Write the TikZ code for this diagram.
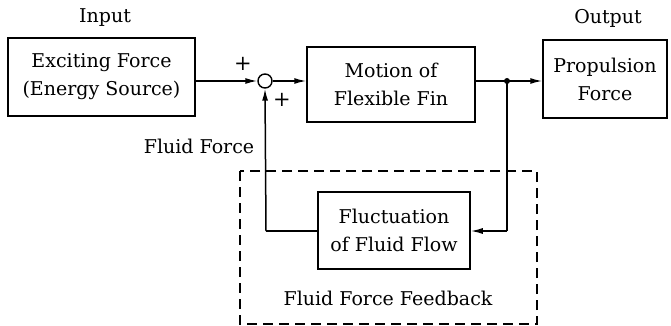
\documentclass[tikz,border=0pt]{standalone}
\usepackage{fontspec}
\setmainfont{DejaVu Serif}
\usetikzlibrary{arrows.meta}
\begin{document}
\begin{tikzpicture}[x=1pt,y=-1pt,
  blk/.style={draw,line width=1.5pt,inner sep=0pt,font=\fontsize{19}{28}\selectfont,align=center},
  lbl/.style={font=\fontsize{19}{22}\selectfont,inner sep=0pt},
  sig/.style={line width=1.5pt,-{Latex[length=12pt,width=6pt]}},
  ln/.style={line width=1.5pt}]
\useasboundingbox (0,0) rectangle (671,326);
\node[blk,minimum width=187pt,minimum height=78pt] (exc) at (101.5,77) {Exciting Force\\(Energy Source)};
\node[draw,circle,line width=1.4pt,minimum size=14pt,inner sep=0pt] (sum) at (265,81) {};
\node[blk,minimum width=168pt,minimum height=75pt] (fin) at (391,84.5) {Motion of\\Flexible Fin};
\node[blk,minimum width=124pt,minimum height=78pt] (prop) at (605,79) {Propulsion\\Force};
\node[blk,minimum width=152pt,minimum height=77pt] (fluc) at (394,230.5) {Fluctuation\\of Fluid Flow};
\node[lbl] (in) at (105,18) {Input};
\node[lbl] (out) at (608,18) {Output};
\node[lbl,font=\fontsize{21}{22}\selectfont] (p1) at (243,64) {+};
\node[lbl,font=\fontsize{21}{22}\selectfont] (p2) at (282,100) {+};
\node[lbl] (ff) at (199,146) {Fluid Force};
\node[lbl] (ffb) at (388,298) {Fluid Force Feedback};
\coordinate (dot) at (507,81);
\coordinate (br) at (507,231);
\coordinate (bl) at (266,231);
\draw[sig] (exc.east |- sum) -- (sum.west);
\draw[sig] (sum.east) -- (fin.west |- sum);
\draw[ln] (fin.east |- dot) -- (dot);
\draw[sig] (dot) -- (prop.west |- dot);
\fill (dot) circle (3pt);
\draw[ln] (dot) -- (br);
\draw[sig] (br) -- (fluc.east |- br);
\draw[ln] (fluc.west |- bl) -- (bl);
\draw[sig] (bl) -- (sum.south);
\draw[line width=1.3pt,dash pattern=on 10pt off 6pt] (240,171) rectangle (537,324);
\end{tikzpicture}
\end{document}
